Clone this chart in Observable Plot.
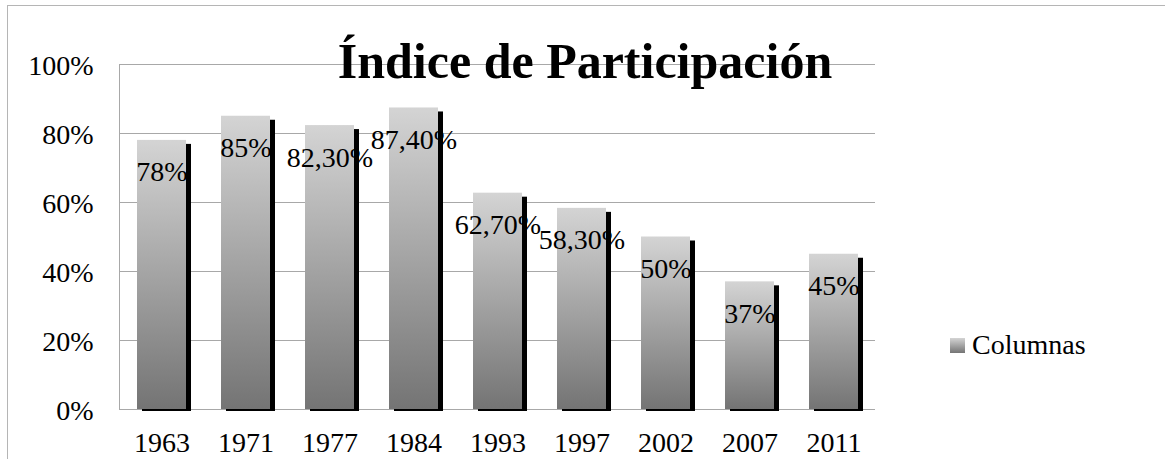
<!DOCTYPE html>
<html>
<head>
<meta charset="utf-8">
<script src="https://cdn.jsdelivr.net/npm/d3@7"></script>
<script src="https://cdn.jsdelivr.net/npm/@observablehq/plot@0.6"></script>
<style>
  body { margin: 0; background: #fff; }
  #wrap { position: relative; width: 1165px; height: 459px; overflow: hidden; font-family: "Liberation Serif", serif; }
  #frame { position: absolute; left: 7px; top: 5px; width: 1300px; height: 600px; border-left: 1px solid #b5b5b5; border-top: 1px solid #b5b5b5; }
  #chart { position: absolute; left: 0; top: 0; }
  #title { position: absolute; left: 0; width: 1170px; top: 36px; text-align: center; font-size: 50px; font-weight: bold; line-height: 1; white-space: nowrap; color: #000; }
  #legend { position: absolute; left: 950px; top: 331px; font-size: 28px; line-height: 1; white-space: nowrap; color: #000; }
  #legend .sw { display: inline-block; width: 15px; height: 15px; background: linear-gradient(#d4d4d4, #747474); margin-right: 7px; vertical-align: 1px; }
</style>
</head>
<body>
<div id="wrap">
  <div id="frame"></div>
  <div id="chart"></div>
  <div id="title">Índice de Participación</div>
  <div id="legend"><span class="sw"></span><span id="legtext"></span></div>
</div>
<script>
const years = ["1963", "1971", "1977", "1984", "1993", "1997", "2002", "2007", "2011"];
const values = [78, 85, 82.3, 87.4, 62.7, 58.3, 50, 37, 45];
const yTicks = [0, 0.2, 0.4, 0.6, 0.8, 1];
const seriesName = "Columnas";

const fmt = v => Number.isInteger(v) ? v + "%" : v.toFixed(2).replace(".", ",") + "%";
const data = years.map((y, i) => ({ year: y, value: values[i] / 100, label: fmt(values[i]) }));

document.getElementById("legtext").textContent = seriesName;

const chart = Plot.plot({
  width: 1165,
  height: 459,
  marginLeft: 119,
  marginRight: 290,
  marginTop: 64,
  marginBottom: 50,
  style: { fontFamily: "Liberation Serif, serif", fontSize: "28px", background: "transparent", color: "#000" },
  x: { domain: years, paddingInner: 0.417, paddingOuter: 0.2085, label: null },
  y: { domain: [0, 1], label: null },
  marks: [
    Plot.gridY(yTicks, { stroke: "#a8a8a8", strokeOpacity: 1, strokeWidth: 1 }),
    Plot.frame({ anchor: "left", stroke: "#a8a8a8" }),
    Plot.barY(data, { x: "year", y: "value", fill: "#000", dx: 5, dy: 4, insetBottom: 2 }),
    Plot.barY(data, { x: "year", y: "value", fill: "url(#barGrad)" }),
    Plot.text(data, { x: "year", y: "value", text: "label", dy: 32, fill: "#000", fontSize: 28 }),
    Plot.axisY(yTicks, { tickFormat: d3.format(".0%"), tickSize: 0, tickPadding: 26, label: null, fontSize: 28, dy: 2 }),
    Plot.axisX({ tickSize: 0, tickPadding: 23, label: null, fontSize: 28 })
  ]
});

const svgNS = "http://www.w3.org/2000/svg";
const defs = document.createElementNS(svgNS, "defs");
const grad = document.createElementNS(svgNS, "linearGradient");
grad.setAttribute("id", "barGrad");
grad.setAttribute("x1", "0"); grad.setAttribute("y1", "0");
grad.setAttribute("x2", "0"); grad.setAttribute("y2", "1");
[["0", "#d4d4d4"], ["1", "#747474"]].forEach(([o, c]) => {
  const s = document.createElementNS(svgNS, "stop");
  s.setAttribute("offset", o);
  s.setAttribute("stop-color", c);
  grad.appendChild(s);
});
defs.appendChild(grad);
chart.insertBefore(defs, chart.firstChild);

document.getElementById("chart").appendChild(chart);
</script>
</body>
</html>
